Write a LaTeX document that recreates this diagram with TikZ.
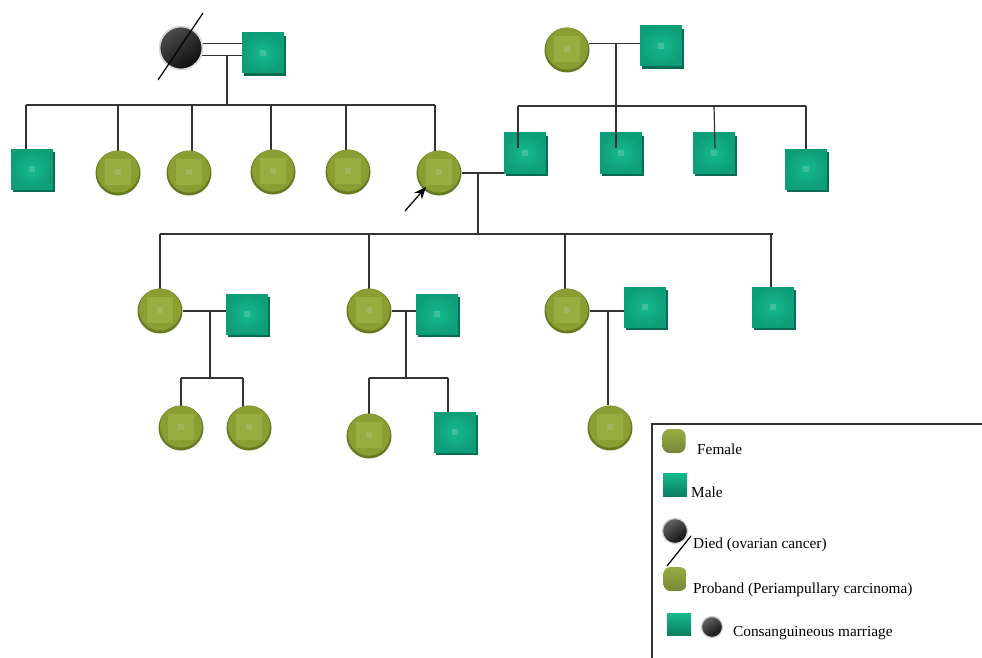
\documentclass[tikz,border=0pt]{standalone}
\usepackage{fontspec}
\setmainfont{Liberation Serif}
\usetikzlibrary{arrows.meta,shadows,backgrounds,calc}
\definecolor{femC}{HTML}{8A9E33}
\definecolor{femD}{HTML}{667A22}
\definecolor{femL}{HTML}{98AD41}
\definecolor{femS}{HTML}{A4B45E}
\definecolor{maleC}{HTML}{0E9D79}
\definecolor{maleL}{HTML}{16BA90}
\definecolor{maleD}{HTML}{086B52}
\definecolor{maleS}{HTML}{3CBF9C}
\definecolor{lineC}{HTML}{333333}
\tikzset{
  line/.style={draw=lineC, line width=1.2},
  fem/.style={circle, minimum size=45, inner sep=0, fill=femD,
    path picture={
      \fill[femC] ([yshift=1.3pt]path picture bounding box.center) circle[radius=21pt];
      \fill[femL] ([shift={(-13pt,-12pt)}]path picture bounding box.center) rectangle ([shift={(13pt,14pt)}]path picture bounding box.center);
      \fill[femS] ([shift={(-3pt,-2pt)}]path picture bounding box.center) rectangle ([shift={(3pt,4pt)}]path picture bounding box.center);
    }},
  male/.style={rectangle, minimum width=42, minimum height=40, inner sep=0, fill=maleC,
    general shadow={fill=maleD, shadow xshift=1.5pt, shadow yshift=-3pt},
    path picture={
      \shade[inner color=maleL, outer color=maleC] (path picture bounding box.south west) rectangle (path picture bounding box.north east);
      \fill[maleS] ([shift={(-3pt,-3pt)}]path picture bounding box.center) rectangle ([shift={(3pt,3pt)}]path picture bounding box.center);
    }},
  dead/.style={circle, minimum size=43, inner sep=0, draw=gray!30, line width=1.8,
    top color=black!70, bottom color=black!95, shading angle=35},
  lfem/.style={rectangle, rounded corners=7, minimum width=23, minimum height=24, inner sep=0,
    top color=femL, bottom color=femD!90},
  lmale/.style={rectangle, minimum width=24, minimum height=23, inner sep=0,
    top color=maleL, bottom color=maleC!80!black},
  ldead/.style={circle, inner sep=0, draw=gray!40, line width=1.2,
    top color=black!60, bottom color=black!95, shading angle=35},
  ltext/.style={anchor=base west, inner sep=0, font=\fontsize{15.3}{18}\selectfont},
}
\begin{document}
\begin{tikzpicture}[x=1pt,y=-1pt]
\useasboundingbox (0,0) rectangle (982,658);

% ---------- nodes ----------
% generation I
\node[dead] (gm1) at (181,48) {};
\node[male] (gf1) at (263,53) {};
\node[fem]  (gm2) at (567,50) {};
\node[male] (gf2) at (661,46) {};
% generation II
\node[male] (c11) at (32,169) {};
\node[fem]  (c12) at (118,173) {};
\node[fem]  (c13) at (189,173) {};
\node[fem]  (c14) at (273,172) {};
\node[fem]  (c15) at (348,172) {};
\node[fem]  (pro) at (439,173) {};
\node[male] (husb) at (525,153) {};
\node[male] (s2) at (621,153) {};
\node[male] (s3) at (714,153) {};
\node[male] (s4) at (806,169) {};
% generation III
\node[fem]  (d1) at (160,311) {};
\node[male] (h1) at (247,314) {};
\node[fem]  (d2) at (369,311) {};
\node[male] (h2) at (437,314) {};
\node[fem]  (d3) at (567,311) {};
\node[male] (h3) at (645,307) {};
\node[male] (s5) at (773,307) {};
% generation IV
\node[fem]  (k11) at (181,428) {};
\node[fem]  (k12) at (249,428) {};
\node[fem]  (k21) at (369,436) {};
\node[male] (k22) at (455,432) {};
\node[fem]  (k31) at (610,428) {};

% ---------- connectors ----------
\coordinate (cl1) at (199,43.5);
\coordinate (cl2) at (199,55.5);
\coordinate (j1) at (227,56);
\coordinate (b1) at (227,105);
\coordinate (j2) at (616,44);
\coordinate (b2) at (616,106);
\coordinate (j3) at (478,172);
\coordinate (b3) at (478,234);
\coordinate (j4) at (210,310);
\coordinate (b4) at (210,378);
\coordinate (j5) at (406,310);
\coordinate (b5) at (406,378);
\coordinate (j6) at (608,310);

\begin{scope}[on background layer]
% family 1 (left)
\draw[line] (cl1) -- (cl1 -| gf1.west);
\draw[line] (cl2) -- (cl2 -| gf1.west);
\draw[line] (j1) -- (b1);
\draw[line] ([xshift=-6pt]c11.north |- b1) -- ([xshift=-6pt]c11.north) ;
\draw[line] ([xshift=-6pt]c11.north |- b1) -- ([xshift=-4pt]pro.north |- b1);
\draw[line] (c12.center |- b1) -- (c12.center);
\draw[line] ([xshift=3pt]c13.center |- b1) -- ([xshift=3pt]c13.center);
\draw[line] ([xshift=-2pt]c14.center |- b1) -- ([xshift=-2pt]c14.center);
\draw[line] ([xshift=-2pt]c15.center |- b1) -- ([xshift=-2pt]c15.center);
\draw[line] ([xshift=-4pt]pro.center |- b1) -- ([xshift=-4pt]pro.center);
% family 2 (right)
\draw[line] (gm2.16) -- (gm2.16 -| gf2.west);
\draw[line] ([xshift=-7pt]husb.north |- b2) -- (s4.north |- b2);
% proband couple
\draw[line] (pro.east) -- (pro.east -| husb.west);
\draw[line] (j3) -- (b3);
\draw[line] (d1.center |- b3) -- (s5.north |- b3);
\draw[line] (d1.center |- b3) -- (d1.center);
\draw[line] (d2.center |- b3) -- (d2.center);
\draw[line] ([xshift=-2pt]d3.center |- b3) -- ([xshift=-2pt]d3.center);
\draw[line] ([xshift=-2pt]s5.north |- b3) -- ([xshift=-2pt]s5.north);
% generation III couples
\draw[line] (d1.east) -- (d1.east -| h1.west);
\draw[line] (j4) -- (b4);
\draw[line] (k11.center |- b4) -- ([xshift=-6pt]k12.center |- b4);
\draw[line] (k11.center |- b4) -- (k11.center);
\draw[line] ([xshift=-6pt]k12.center |- b4) -- ([xshift=-6pt]k12.center);
\draw[line] (d2.east) -- (d2.east -| h2.west);
\draw[line] (j5) -- (b5);
\draw[line] (k21.center |- b5) -- ([xshift=-7pt]k22.north |- b5);
\draw[line] (k21.center |- b5) -- (k21.center);
\draw[line] ([xshift=-7pt]k22.north |- b5) -- ([xshift=-7pt]k22.north);
\draw[line] (d3.east) -- (d3.east -| h3.west);
\draw[line] (j6) -- (j6 |- k31.north);
\end{scope}
% lines drawn over the sons of family 2
\draw[line] (j2) -- ([yshift=5pt]s2.center -| j2);
\draw[line] ([xshift=-7pt]husb.north |- b2) -- ([shift={(-7pt,5pt)}]husb.center);
\draw[line] (s3.north |- b2) -- ([shift={(1pt,5pt)}]s3.center);
\draw[line] (s4.north |- b2) -- (s4.north);

% slash over the deceased
\coordinate (sl1) at (158,80);
\coordinate (sl2) at (203,13);
\draw[line, draw=black] (sl1) -- (sl2);

% proband arrow
\coordinate (arrT) at (405,211);
\draw[line, draw=black, -{Stealth[length=12pt,width=10pt]}] (arrT) -- ([shift={(3pt,2pt)}]pro.225);

% ---------- legend ----------
\coordinate (lgA) at (652,658);
\coordinate (lgB) at (652,424);
\coordinate (lgC) at (982,424);
\draw[line] (lgA) -- (lgB) -- (lgC);

\node[lfem] (lf) at (674,441) {};
\node[ltext] (tf) at (697,454) {Female};
\node[lmale] (lm) at (675,485) {};
\node[ltext] (tm) at (691,497) {Male};
\node[ldead, minimum size=25] (ld) at (675,531) {};
\coordinate (ls1) at (667,566);
\coordinate (ls2) at (691,536);
\draw[line, draw=black] (ls1) -- (ls2);
\node[ltext] (td) at (693,548) {Died (ovarian cancer)};
\node[lfem] (lp) at (675,579) {};
\node[ltext] (tp) at (693,593) {Proband (Periampullary carcinoma)};
\node[lmale, minimum height=22] (lcm) at (679,624) {};
\node[ldead, minimum size=21] (lcd) at (712,627) {};
\node[ltext] (tc) at (733,636) {Consanguineous marriage};
\end{tikzpicture}
\end{document}
